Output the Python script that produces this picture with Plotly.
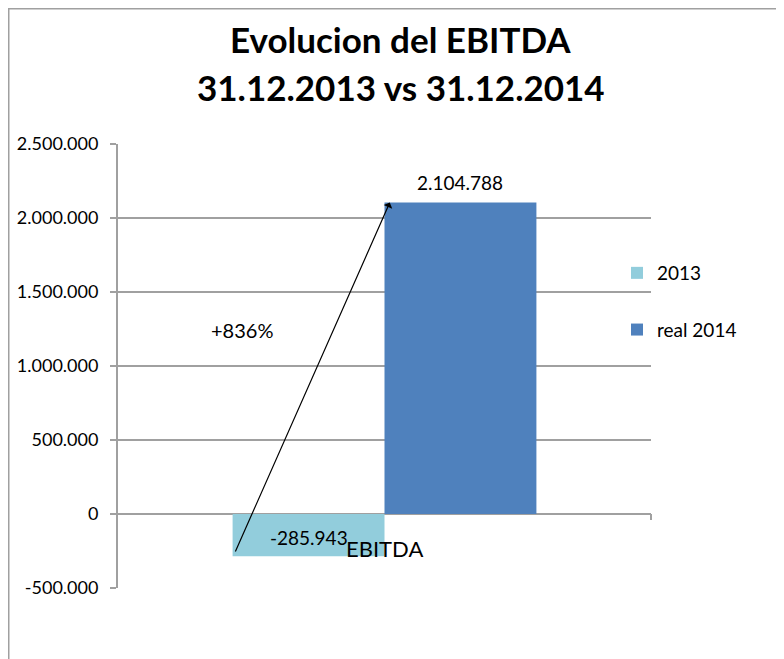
import plotly.graph_objects as go

categories = ["EBITDA"]
series_names = ["2013", "real 2014"]
series_values = [-285943, 2104788]
series_colors = ["#92CDDC", "#4F81BD"]
growth_label = "+836%"
y_tickvals = [-500000, 0, 500000, 1000000, 1500000, 2000000, 2500000]
y_ticktext = ["-500.000", "0", "500.000", "1.000.000", "1.500.000", "2.000.000", "2.500.000"]
title_lines = ["Evolucion del EBITDA", "31.12.2013 vs 31.12.2014"]


def fmt(v):
    s = f"{abs(v):,}".replace(",", ".")
    return ("-" if v < 0 else "") + s


W, H = 784, 659
L, R, T, B = 110, 141, 136, 79
pw, ph = W - L - R, H - T - B
bar_w = 0.285
offsets = [-bar_w, 0.0]
FONT = "Lato"


def py(fig_y):
    return (T + ph - fig_y) / ph


def px(fig_x):
    return (fig_x - L) / pw


fig = go.Figure()
for name, val, col, off in zip(series_names, series_values, series_colors, offsets):
    fig.add_trace(go.Bar(
        x=[0], y=[val], name=name, marker=dict(color=col, line=dict(width=0)),
        width=bar_w, offset=off, legendgroup=name,
    ))

# data labels
centers = [o + bar_w / 2 for o in offsets]
fig.add_annotation(x=centers[0], y=0, text=fmt(series_values[0]), showarrow=False,
                   yanchor="middle", yshift=-23, font=dict(size=19, color="black", family=FONT))
fig.add_annotation(x=centers[1], y=series_values[1], text=fmt(series_values[1]), showarrow=False,
                   yanchor="middle", yshift=20, font=dict(size=19, color="black", family=FONT))
# category label at zero line
fig.add_annotation(x=0, y=0, text=categories[0], showarrow=False, yanchor="middle", yshift=-34,
                   font=dict(size=22, color="black", family=FONT))
# growth arrow
fig.add_annotation(x=offsets[1] + 0.01, y=series_values[1], ax=offsets[0] + 0.004, ay=series_values[0] * 0.92,
                   axref="x", ayref="y", xref="x", yref="y", text="", showarrow=True,
                   arrowhead=1, arrowsize=1.3, arrowwidth=1.2, arrowcolor="black")
fig.add_annotation(x=-0.267, y=1243000, text=growth_label, showarrow=False,
                   font=dict(size=20, color="black", family=FONT))

# title lines
fig.add_annotation(xref="paper", yref="paper", x=px(W / 2), y=py(31), text="<b>" + title_lines[0] + "</b>",
                   showarrow=False, xanchor="center", yanchor="middle",
                   font=dict(size=35, color="black", family=FONT))
fig.add_annotation(xref="paper", yref="paper", x=px(W / 2 + 1), y=py(79), text="<b>" + title_lines[1] + "</b>",
                   showarrow=False, xanchor="center", yanchor="middle",
                   font=dict(size=35, color="black", family=FONT))

# x-axis end tick at zero line
fig.add_shape(type="line", xref="paper", yref="y", x0=1, x1=1, y0=-6, y1=0,
              ysizemode="pixel", yanchor=0, line=dict(color="#A0A0A0", width=2))

# outer chart border
fig.add_shape(type="rect", xref="paper", yref="paper",
              x0=px(0.75), x1=px(W + 20),
              y0=py(H + 20), y1=py(0.75),
              line=dict(color="#A0A0A0", width=1.5), fillcolor="rgba(0,0,0,0)", layer="below")

fig.update_layout(
    width=W, height=H,
    margin=dict(l=L, r=R, t=T, b=B, pad=0, autoexpand=False),
    paper_bgcolor="white", plot_bgcolor="white",
    bargap=0.43,
    showlegend=True,
    legend=dict(x=px(609), xanchor="left", y=py(246), yanchor="top",
                font=dict(size=19, color="black", family=FONT), tracegroupgap=29,
                itemwidth=30, bgcolor="rgba(0,0,0,0)", traceorder="grouped"),
    font=dict(family=FONT, color="black"),
)
fig.update_xaxes(range=[-0.5, 0.5], showticklabels=False, showgrid=False, zeroline=False,
                 showline=False, ticks="", fixedrange=True, automargin=False)
fig.update_yaxes(range=[-500000, 2500000], tickvals=y_tickvals, ticktext=y_ticktext,
                 showgrid=True, gridcolor="#A0A0A0", gridwidth=2, zeroline=True,
                 zerolinecolor="#A0A0A0", zerolinewidth=2,
                 showline=True, linecolor="#A0A0A0", linewidth=2, automargin=False,
                 ticks="outside", ticklen=6, tickwidth=2, tickcolor="#A0A0A0",
                 ticklabelstandoff=8, tickfont=dict(size=18, color="black", family=FONT))

fig.write_html("out.html")
